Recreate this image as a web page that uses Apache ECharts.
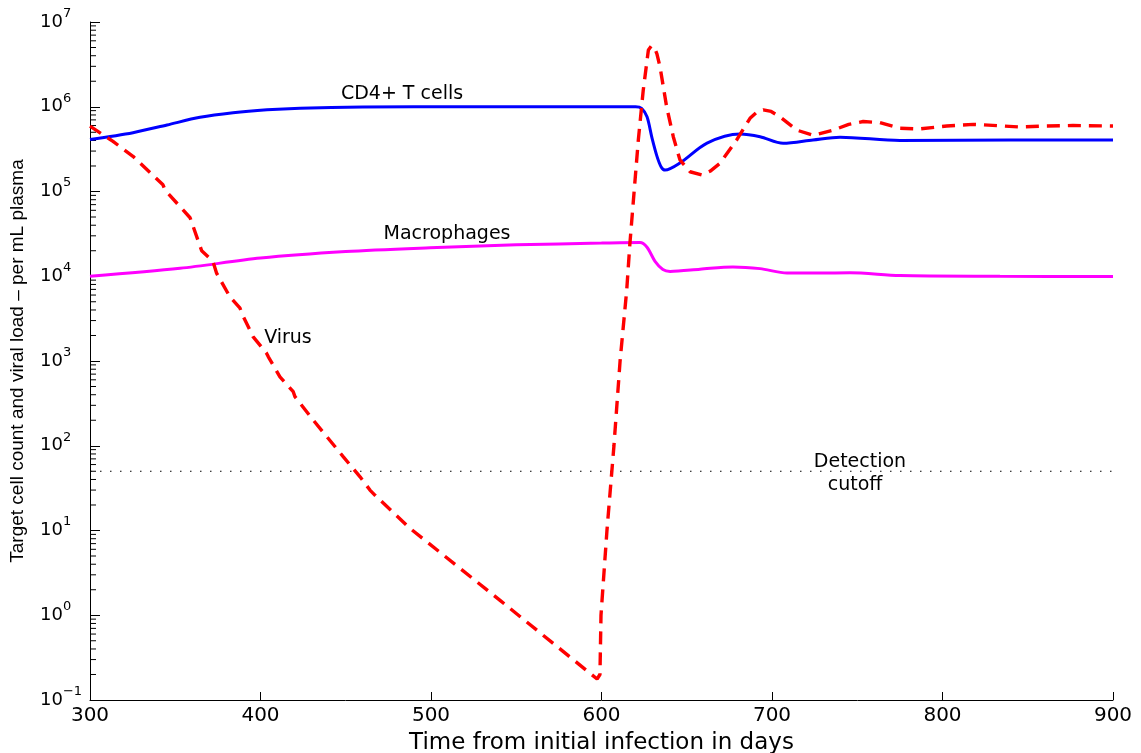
<!DOCTYPE html>
<html><head><meta charset="utf-8">
<script src="https://cdn.jsdelivr.net/npm/echarts@6.0.0/dist/echarts.min.js"></script>
<style>html,body{margin:0;padding:0;background:#fff}#c{width:1141px;height:753px}</style>
</head><body><div id="c"></div>
<script>
// ---- data ----
const xTicks = [300, 400, 500, 600, 700, 800, 900];
const yDecades = [-1, 0, 1, 2, 3, 4, 5, 6, 7];

const cd4T = [300, 325.2, 345.2, 364.5, 383.9, 403.8, 423.2, 460, 520, 620, 623.5, 626.7, 629.6, 632.6, 635, 637.3, 646, 661.9, 681.2, 693, 706.5, 724, 739.9, 775, 840, 900];
const cd4V = [4.1e5, 4.94e5, 6.1e5, 7.5e5, 8.5e5, 9.2e5, 9.6e5, 9.9e5, 1.0e6, 1.0e6, 9.6e5, 7.6e5, 4.3e5, 2.58e5, 1.95e5, 1.79e5, 2.17e5, 3.73e5, 4.77e5, 4.43e5, 3.7e5, 4.05e5, 4.37e5, 4.0e5, 4.05e5, 4.05e5];

const macT = [300, 352.8, 400, 450, 499.4, 550, 600, 622.6, 626.7, 631.4, 636, 640.2, 657.8, 677.1, 693, 708.8, 728.2, 745.7, 775, 833.7, 900];
const macV = [1.0e4, 1.24e4, 1.64e4, 1.96e4, 2.17e4, 2.35e4, 2.46e4, 2.5e4, 2.2e4, 1.5e4, 1.2e4, 1.14e4, 1.21e4, 1.29e4, 1.23e4, 1.09e4, 1.09e4, 1.1e4, 1.02e4, 1.0e4, 9.9e3];

const virT = [300, 313.5, 325.2, 342.8, 344, 358.7, 365.5, 372.1, 374.3, 382.1, 388, 389, 395.6, 403.6, 404.6, 411.4, 419.2, 420.2, 431, 448.6, 458.4, 464.2, 467.2, 487.7, 540.5, 597.4, 599.1, 599.7, 603.2, 607.3, 610.9, 614.8, 616.7, 621.6, 624.5, 627.5, 629.2, 630.8, 632.5, 634.3, 638.2, 642.1, 646, 651.9, 658.8, 664, 669.5, 679.3, 687.1, 691, 694.9, 699.5, 704.7, 714.5, 724.2, 736, 745, 753.5, 763.3, 775, 785.8, 802.5, 818.1, 835.7, 845.4, 861.1, 876.5, 900];
const virV = [5.9e5, 3.9e5, 2.6e5, 1.2e5, 1.04e5, 4.9e4, 2.0e4, 1.5e4, 1.08e4, 5.7e3, 4.2e3, 3.66e3, 1.94e3, 1.23e3, 1.12e3, 650, 434, 380, 200, 74, 43, 30, 26, 10.6, 1.5, 0.177, 0.2, 1.0, 10, 100, 1000, 6900, 2.5e4, 4.06e5, 1.58e6, 4.68e6, 5.2e6, 5.12e6, 4.2e6, 2.97e6, 1.0e6, 4.43e5, 2.36e5, 1.71e5, 1.57e5, 1.75e5, 2.15e5, 4.06e5, 7.3e5, 8.6e5, 9.2e5, 8.8e5, 7.6e5, 5.3e5, 4.6e5, 5.3e5, 6.2e5, 6.7e5, 6.5e5, 5.57e5, 5.46e5, 5.93e5, 6.2e5, 5.93e5, 5.76e5, 5.93e5, 6.0e5, 5.93e5];

const cutoffValue = 50;

const labelTexts = ['CD4+ T cells', 'Macrophages', 'Virus', 'Detection', 'cutoff'];
const labelT = [483, 509.4, 416.1, 751.6, 748.7];
const labelV = [1.41e6, 3.15e4, 1866, 64.3, 34.4];

// ---- build ----
const pairs = (ts, vs) => ts.map((t, i) => [t, vs[i]]);
const minorTicks = [];
yDecades.slice(0, -1).forEach(e => { for (let m = 2; m <= 9; m++) minorTicks.push([300, m * Math.pow(10, e)]); });

const FONT = 'DejaVu Sans';
const chart = echarts.init(document.getElementById('c'));
chart.setOption({
  animation: false,
  backgroundColor: '#fff',
  grid: { left: 90, right: 28, top: 22, bottom: 53, containLabel: false, outerBoundsMode: 'none' },
  xAxis: {
    type: 'value', min: 300, max: 900, interval: 100,
    axisLine: { lineStyle: { color: '#000', width: 1 } },
    axisTick: { inside: true, length: 8, lineStyle: { color: '#000' } },
    splitLine: { show: false },
    axisLabel: { color: '#000', fontFamily: FONT, fontSize: 20, margin: 6 },
    name: 'Time from initial infection in days', nameLocation: 'middle', nameGap: 32,
    nameTextStyle: { color: '#000', fontFamily: FONT, fontSize: 23 }
  },
  yAxis: {
    type: 'log', logBase: 10, min: 0.1, max: 1e7, splitNumber: 8,
    axisLine: { lineStyle: { color: '#000', width: 1 } },
    axisTick: { inside: true, length: 10, lineStyle: { color: '#000' } },
    splitLine: { show: false },
    axisLabel: {
      align: 'left', margin: 50, color: '#000',
      formatter: v => { const e = Math.round(Math.log10(v)); return '{b|10}{s|' + (e < 0 ? '\u2212' + (-e) : e) + '}'; },
      rich: {
        b: { fontFamily: FONT, fontSize: 18, lineHeight: 30, color: '#000' },
        s: { fontFamily: FONT, fontSize: 13, verticalAlign: 'top', color: '#000' }
      }
    },
    name: 'Target cell count and viral load \u2013 per mL plasma', nameLocation: 'middle', nameGap: 63,
    nameTextStyle: { color: '#000', fontFamily: 'Liberation Sans', fontSize: 19 }
  },
  series: [
    { type: 'custom', silent: true, clip: false, data: minorTicks, encode: { x: 0, y: 1 },
      renderItem: (params, api) => { const p = api.coord([api.value(0), api.value(1)]);
        return { type: 'line', shape: { x1: p[0], y1: p[1], x2: p[0] + 6, y2: p[1] }, style: { stroke: '#000', lineWidth: 1 } }; } },
    { type: 'line', silent: true, showSymbol: false, data: [[300, cutoffValue], [900, cutoffValue]],
      lineStyle: { color: '#000', width: 1.2, type: [1.5, 8.5] } },
    { name: 'CD4+ T cells', type: 'line', showSymbol: false, smooth: 0.3, data: pairs(cd4T, cd4V),
      lineStyle: { color: '#0000ff', width: 3 } },
    { name: 'Macrophages', type: 'line', showSymbol: false, smooth: 0.3, data: pairs(macT, macV),
      lineStyle: { color: '#ff00ff', width: 3 } },
    { name: 'Virus', type: 'line', showSymbol: false, smooth: false, data: pairs(virT, virV),
      lineStyle: { color: '#ff0000', width: 3.4, type: [13, 8] } },
    { type: 'custom', silent: true, clip: false, z: 10,
      data: labelTexts.map((s, i) => [labelT[i], labelV[i], i]), encode: { x: 0, y: 1 },
      renderItem: (params, api) => { const p = api.coord([api.value(0), api.value(1)]);
        return { type: 'text', x: p[0], y: p[1], style: { text: labelTexts[api.value(2)], fill: '#000',
          font: '19px "DejaVu Sans"', align: 'center', verticalAlign: 'middle' } }; } }
  ]
});
</script>
</body></html>
